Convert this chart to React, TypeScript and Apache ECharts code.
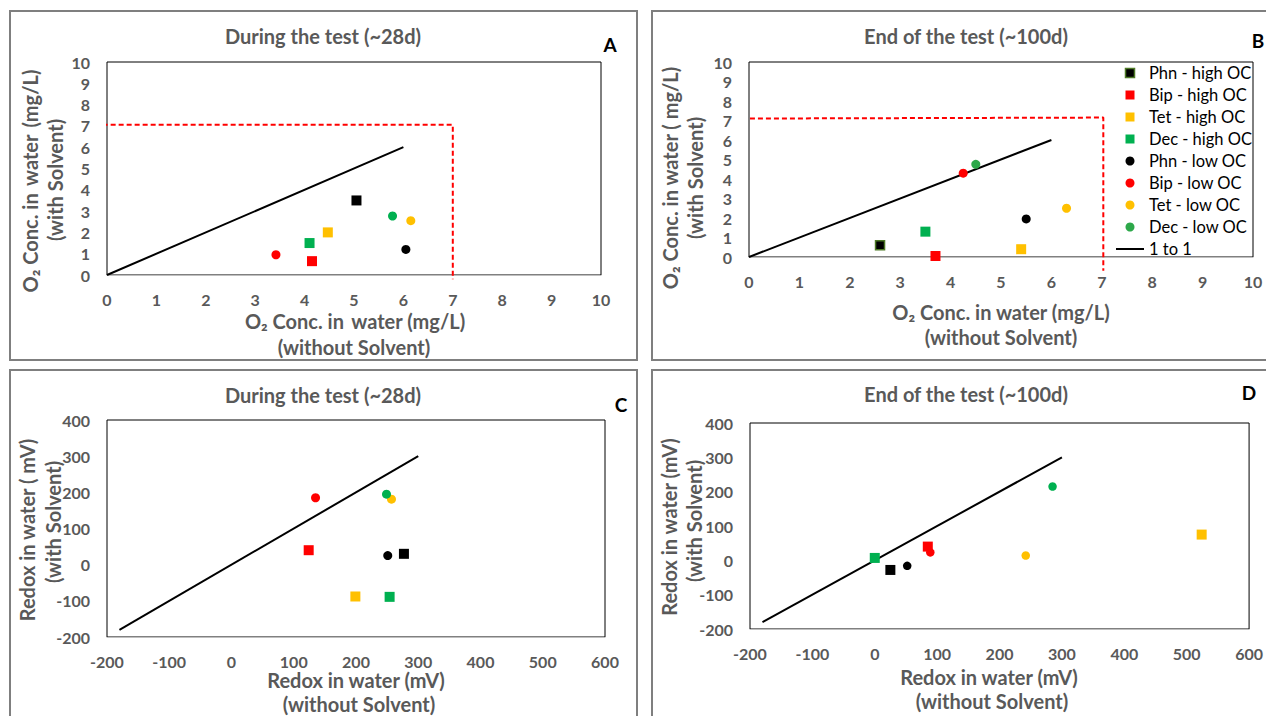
import React, { useEffect, useRef } from "react";
import * as echarts from "echarts";

const seriesNames = [
  "Phn - high OC",
  "Bip - high OC",
  "Tet - high OC",
  "Dec - high OC",
  "Phn - low OC",
  "Bip - low OC",
  "Tet - low OC",
  "Dec - low OC",
];
const seriesColors = ["#000000", "#FF0000", "#FFC000", "#00B050", "#000000", "#FF0000", "#FFC000", "#00B050"];
const seriesSymbols = ["rect", "rect", "rect", "rect", "circle", "circle", "circle", "circle"];

// [without solvent, with solvent] per series, same order as seriesNames
const o2During = [
  [5.05, 3.5],
  [4.15, 0.65],
  [4.47, 2.0],
  [4.1, 1.5],
  [6.05, 1.2],
  [3.42, 0.95],
  [6.15, 2.55],
  [5.78, 2.77],
];
const o2End = [
  [2.6, 0.6],
  [3.7, 0.05],
  [5.4, 0.4],
  [3.5, 1.3],
  [5.5, 1.95],
  [4.25, 4.3],
  [6.3, 2.5],
  [4.5, 4.75],
];
const redoxDuring = [
  [277, 30],
  [124, 40],
  [199, -88],
  [254, -89],
  [251, 25],
  [135, 185],
  [257, 181],
  [249, 195],
];
const redoxEnd = [
  [25, -28],
  [85, 40],
  [524, 75],
  [0, 7],
  [52, -16],
  [89, 23],
  [242, 14],
  [285, 215],
];

const oneToOneO2 = [
  [0, 0],
  [6, 6],
];
const oneToOneRedox = [
  [-180, -180],
  [300, 300],
];
const limitDuring = [
  [-0.25, 7.05],
  [7, 7.05],
  [7, -0.2],
];
const limitEnd = [
  [-0.14, 7.1],
  [7.03, 7.15],
  [7.03, -0.7],
];

const o2Ticks = { min: 0, max: 10, interval: 1 };
const redoxXTicks = { min: -200, max: 600, interval: 100 };
const redoxYTicks = { min: -200, max: 400, interval: 100 };

const FONT = "Lato, 'Open Sans', sans-serif";
const GRAY = "#595959";
const SQUARE_ICON = "path://M0,0L0,0M28,9L28,9M9.5,0L18.5,0L18.5,9L9.5,9Z";

export default function App() {
  const ref = useRef<HTMLDivElement>(null);

  useEffect(() => {
    if (!ref.current) return;
    const chart = echarts.init(ref.current, undefined, { renderer: "svg" });

    const grids = [
      { left: 107, top: 62, width: 494, height: 213 }, // A
      { left: 749, top: 62, width: 504, height: 195 }, // B
      { left: 107, top: 420, width: 498, height: 217 }, // C
      { left: 750, top: 423, width: 501, height: 206 }, // D
    ].map((g) => ({ ...g, show: true, borderColor: "#000", borderWidth: 1, backgroundColor: "transparent" }));

    const axisLabel = { color: GRAY, fontFamily: FONT, fontWeight: "bold", fontSize: 16 };
    const mkX = (gi: number, t: any) => ({
      type: "value",
      gridIndex: gi,
      ...t,
      axisLine: { show: true, onZero: false, lineStyle: { color: "#BFBFBF", width: 1 } },
      axisTick: { show: false },
      splitLine: { show: false },
      axisLabel: { ...axisLabel, margin: 16 },
    });
    const mkY = (gi: number, t: any) => ({
      type: "value",
      gridIndex: gi,
      ...t,
      axisLine: { show: false },
      axisTick: { show: false },
      splitLine: { show: false },
      axisLabel: { ...axisLabel, margin: 17 },
    });

    const xAxis = [mkX(0, o2Ticks), mkX(1, o2Ticks), mkX(2, redoxXTicks), mkX(3, redoxXTicks)];
    const yAxis = [mkY(0, o2Ticks), mkY(1, o2Ticks), mkY(2, redoxYTicks), mkY(3, redoxYTicks)];

    const panelData = [o2During, o2End, redoxDuring, redoxEnd];

    const series: any[] = [];
    const order = [1, 0, 2, 3];
    order.forEach((gi) => {
      const data = panelData[gi];
      seriesNames.forEach((name, i) => {
        const isRect = seriesSymbols[i] === "rect";
        let color = seriesColors[i];
        if (gi === 1 && i === 7) color = "#2DA84A";
        const itemStyle: any = { color, opacity: 1 };
        if (gi === 1 && i === 0) {
          itemStyle.borderColor = "#4E7A27";
          itemStyle.borderWidth = 1.5;
        }
        series.push({
          type: "scatter",
          name,
          xAxisIndex: gi,
          yAxisIndex: gi,
          symbol: seriesSymbols[i],
          symbolSize: isRect ? (gi === 1 && i === 0 ? 9 : 10) : gi === 3 ? 8.5 : 9,
          itemStyle,
          data: [data[i]],
          z: 4,
        });
      });
      series.push({
        type: "line",
        name: "1 to 1",
        xAxisIndex: gi,
        yAxisIndex: gi,
        symbol: "none",
        showSymbol: false,
        itemStyle: { color: "#000" },
        lineStyle: { color: "#000", width: 2 },
        data: gi < 2 ? oneToOneO2 : oneToOneRedox,
        z: 3,
      });
      if (gi < 2) {
        series.push({
          type: "line",
          name: "limit" + gi,
          xAxisIndex: gi,
          yAxisIndex: gi,
          symbol: "none",
          showSymbol: false,
          clip: false,
          lineStyle: { color: "#FF0000", width: 2, type: [5, 3] },
          data: gi === 0 ? limitDuring : limitEnd,
          z: 3,
        });
      }
    });

    const titleStyle = { fill: GRAY, font: `bold 20px ${FONT}`, textAlign: "center", textVerticalAlign: "middle" };
    const nameStyle = { fill: GRAY, font: `bold 20px ${FONT}`, textAlign: "center", textVerticalAlign: "middle" };
    const letterStyle = { fill: "#000", font: `bold 19px ${FONT}`, textAlign: "center", textVerticalAlign: "middle" };

    const txt = (x: number, y: number, text: string, style: any, rot = 0) => ({
      type: "text",
      x,
      y,
      rotation: rot,
      style: { ...style, text },
      z: 10,
    });
    const rect = (x: number, y: number, w: number, h: number) => ({
      type: "rect",
      shape: { x, y, width: w, height: h },
      style: { fill: "none", stroke: "#7F7F7F", lineWidth: 2 },
      z: 1,
      silent: true,
    });
    const R = Math.PI / 2;
    const TS = "\u2009";

    const graphic = [
      rect(10, 11, 627, 349),
      rect(652, 11, 625, 349),
      rect(10, 370, 627, 352),
      rect(652, 370, 625, 352),
      txt(323, 36, "During the test (~28d)", titleStyle),
      txt(966, 36, "End of the test (~100d)", titleStyle),
      txt(323, 395, "During the test (~28d)", titleStyle),
      txt(966, 394, "End of the test (~100d)", titleStyle),
      txt(610, 44, "A", letterStyle),
      txt(1258, 40, "B", letterStyle),
      txt(621, 404, "C", letterStyle),
      txt(1249, 392, "D", letterStyle),
      // A axis names
      txt(355, 321, `O₂ Conc. in ${TS}water (mg/L)`, nameStyle),
      txt(354, 347, "(without Solvent)", nameStyle),
      txt(30, 181, `O₂ Conc. in ${TS}water ${TS}(mg/L)`, nameStyle, R),
      txt(55, 180, "(with Solvent)", nameStyle, R),
      // B axis names
      txt(1001, 312, "O₂ Conc. in water (mg/L)", nameStyle),
      txt(1001, 337, "(without Solvent)", nameStyle),
      txt(670, 178, "O₂ Conc. in water ( mg/L)", nameStyle, R),
      txt(695, 178, "(with Solvent)", nameStyle, R),
      // C axis names
      txt(356, 680, "Redox in water (mV)", nameStyle),
      txt(359, 704, "(without Solvent)", nameStyle),
      txt(27, 530, "Redox in water ( mV)", nameStyle, R),
      txt(53, 522, "(with Solvent)", nameStyle, R),
      // D axis names
      txt(989, 677, "Redox in water (mV)", nameStyle),
      txt(992, 701, "(without Solvent)", nameStyle),
      txt(669, 527, "Redox in water (mV)", nameStyle, R),
      txt(694, 521, "(with Solvent)", nameStyle, R),
    ];

    const legendData: any[] = seriesNames.map((n, i) => {
      if (i === 0) return { name: n, icon: SQUARE_ICON, itemStyle: { color: "#000", borderColor: "#4E7A27", borderWidth: 1.5 } };
      if (i < 4) return { name: n, icon: SQUARE_ICON };
      return { name: n, icon: "circle" };
    });
    legendData.push({ name: "1 to 1", itemStyle: { color: "rgba(0,0,0,0)", borderColor: "rgba(0,0,0,0)", opacity: 0 } });

    chart.setOption({
      animation: false,
      backgroundColor: "#fff",
      grid: grids,
      xAxis,
      yAxis,
      series,
      graphic,
      legend: {
        show: true,
        orient: "vertical",
        left: 1115,
        top: 63,
        itemWidth: 28,
        itemHeight: 9,
        itemGap: 2,
        padding: 0,
        selectedMode: false,
        symbolKeepAspect: true,
        data: legendData,
        textStyle: { color: "#000", fontFamily: FONT, fontSize: 16.5, lineHeight: 20 },
      },
    });

    return () => chart.dispose();
  }, []);

  return <div ref={ref} style={{ position: "fixed", left: 0, top: 0, width: 1266, height: 716 }} />;
}
